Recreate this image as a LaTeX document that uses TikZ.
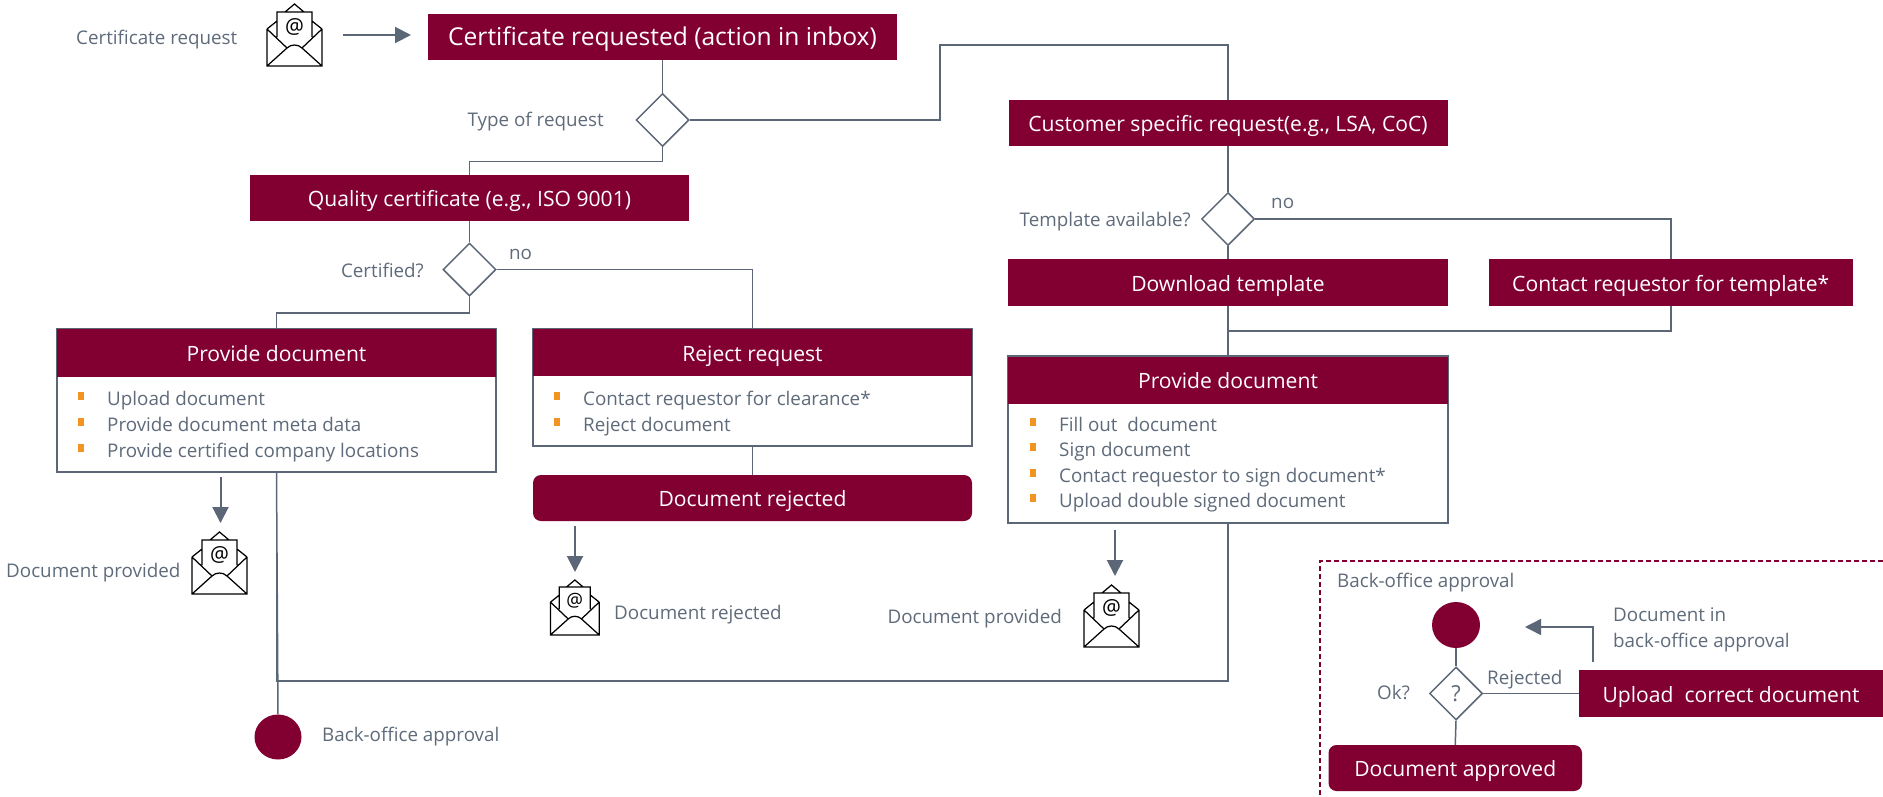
\documentclass[tikz,border=0pt]{standalone}
\usepackage{fontspec}
\setmainfont{Open Sans}
\usetikzlibrary{arrows.meta,shapes.geometric}
\definecolor{maroon}{HTML}{810031}
\definecolor{linegrey}{HTML}{5B6676}
\definecolor{txtgrey}{HTML}{5F6B7A}
\definecolor{bulletor}{HTML}{F39322}
\newcommand{\lblfont}{\fontsize{18.8}{22}\selectfont}
\newcommand{\hdrfont}{\fontsize{21.1}{25}\selectfont}
\newcommand{\bigfont}{\fontsize{24.6}{29}\selectfont}
\tikzset{
  x=1pt,y=-1pt,
  hdr/.style={fill=maroon,text=white,inner sep=0,font=\hdrfont,text height=19pt,text depth=2pt},
  bodybox/.style={draw=linegrey,line width=1.5pt,fill=white,inner sep=0},
  rnd/.style={hdr,rounded corners=8pt},
  dec/.style={diamond,aspect=1,draw=linegrey,line width=1.5pt,fill=white,inner sep=0,minimum size=0pt,text=txtgrey,font=\lblfont},
  lbl/.style={inner sep=0,font=\lblfont,text=txtgrey,text height=16pt,text depth=1pt},
  conn/.style={draw=linegrey,line width=1.5pt},
  arr/.style={draw=linegrey,line width=2pt,-{Triangle[length=16pt,width=16pt]}},
  dot/.style={ellipse,fill=maroon,inner sep=0},
  sq/.style={fill=bulletor,inner sep=0,minimum width=6pt,minimum height=8pt},
  pics/mailicon/.style={code={
    \draw[black,line width=1.25pt,line join=miter]
      (0,25) -- (0,62) -- (55,62) -- (55,25)
      (0,25) -- (10,17) (45,17) -- (55,25)
      (18,8) -- (27.5,0) -- (37,8)
      (10,33) -- (10,8) -- (45,8) -- (45,33)
      (0,25) -- (20,44) .. controls (24,40) and (31,40) .. (35,44) -- (55,25)
      (0,62) -- (20,44) (55,62) -- (35,44);
    \node[inner sep=0,text=black,transform shape,font=\fontsize{21}{24}\selectfont] (#1) at (27.5,23) {@};
  }}
}
\newcommand{\bitem}[4]{%
  \node[sq] (#1s) at (#2,#3) {};
  \node[lbl,anchor=west] (#1t) at (#2+26,#3+1.5) {#4};}
\begin{document}
\begin{tikzpicture}
\useasboundingbox (0,0) rectangle (1883,796);
% top row
\node[lbl,anchor=west] (lreq) at (76,37) {Certificate request};
\pic[] at (267,4) {mailicon=m1};
\coordinate (a1s) at (343,35);
\coordinate (a1e) at (411,35);
\draw[arr] (a1s) -- (a1e);
\node[hdr,minimum width=469pt,minimum height=46pt,font=\bigfont,text height=20pt,text depth=3pt] (top) at (662.5,37) {Certificate requested (action in inbox)};
% decision 1
\node[dec,minimum size=53pt] (d1) at (662.5,120) {};
\node[lbl,anchor=east] (ltype) at (604,119) {Type of request};
\node[hdr,minimum width=439pt,minimum height=46pt] (qc) at (469.5,198) {Quality certificate (e.g., ISO 9001)};
\node[hdr,minimum width=439pt,minimum height=46pt] (cs) at (1228,123) {Customer specific request(e.g., LSA, CoC)};
\draw[conn] (top.south -| d1.north) -- (d1.north);
\draw[conn] (d1.south) -- ++(0,14) -| (qc.north);
\draw[conn] (d1.east) -- ++(250,0) |- (1228,45) -- (cs.north);
% decision 2
\node[dec,minimum size=53pt] (d2) at (469.5,269.5) {};
\node[lbl,anchor=east] (lcert) at (424,270) {Certified?};
\node[lbl,anchor=west] (lno2) at (509,252) {no};
\draw[conn] (qc.south) -- (d2.north);
% provide doc 1
\node[bodybox,minimum width=439pt,minimum height=143pt] (pd1b) at (276.5,400.5) {};
\node[hdr,minimum width=439pt,minimum height=48pt] (pd1) at (276.5,352.5) {Provide document};
\bitem{b11}{81}{396}{Upload document}
\bitem{b12}{81}{422}{Provide document meta data}
\bitem{b13}{81}{448}{Provide certified company locations}
% reject
\node[bodybox,minimum width=439pt,minimum height=117pt] (rjb) at (752.5,387.5) {};
\node[hdr,minimum width=439pt,minimum height=47pt] (rj) at (752.5,352.5) {Reject request};
\bitem{b21}{557}{396}{Contact requestor for clearance*}
\bitem{b22}{557}{422}{Reject document}
\draw[conn] (d2.south) -- ++(0,16) -| (pd1.north);
\draw[conn] (d2.east) -| (rj.north);
\node[rnd,minimum width=439pt,minimum height=46pt] (drj) at (752.5,498) {Document rejected};
\draw[conn] (rjb.south) -- (drj.north);
% arrows + mails left
\coordinate (a2s) at (220.5,477);
\coordinate (a2e) at (220.5,523);
\draw[arr] (a2s) -- (a2e);
\pic at (192,532) {mailicon=m2};
\node[lbl,anchor=west] (ldp1) at (6,570) {Document provided};
\coordinate (a3s) at (575,526);
\coordinate (a3e) at (575,572);
\draw[arr] (a3s) -- (a3e);
\pic[scale=.885] at (550.5,580) {mailicon=m3};
\node[lbl,anchor=west] (ldr) at (614,612) {Document rejected};
% customer branch
\node[dec,minimum size=53pt] (d3) at (1228,219) {};
\node[lbl,anchor=east] (ltpl) at (1191,219) {Template available?};
\node[lbl,anchor=west] (lno3) at (1271,201) {no};
\node[hdr,minimum width=440pt,minimum height=47pt] (dl) at (1228,282.5) {Download template};
\node[hdr,minimum width=364.5pt,minimum height=47pt] (ct) at (1670.75,282.5) {Contact requestor for template*};
\draw[conn] (cs.south) -- (d3.north);
\draw[conn] (d3.south) -- (dl.north);
\draw[conn] (d3.east) -| (ct.north);
\node[bodybox,minimum width=440pt,minimum height=167pt] (pd3b) at (1228,439.5) {};
\node[hdr,minimum width=440pt,minimum height=47pt] (pd3) at (1228,380) {Provide document};
\draw[conn] (dl.south) -- (pd3.north);
\draw[conn] (ct.south) -- ++(0,25) -| (dl.south -| pd3.north);
\bitem{b31}{1033}{422}{Fill out\ \ document}
\bitem{b32}{1033}{447}{Sign document}
\bitem{b33}{1033}{473}{Contact requestor to sign document*}
\bitem{b34}{1033}{498}{Upload double signed document}
\coordinate (a4s) at (1115,530);
\coordinate (a4e) at (1115,576);
\draw[arr] (a4s) -- (a4e);
\pic at (1084,585) {mailicon=m4};
\node[lbl,anchor=east] (ldp2) at (1062,616) {Document provided};
% back office
\node[dot,minimum width=47pt,minimum height=45pt] (bo) at (278,737) {};
\node[lbl,anchor=west] (lbo) at (322,734) {Back-office approval};
\draw[conn] (pd1b.south) -- (bo.north);
\draw[conn] (pd3b.south) -- ++(0,157) -| (pd1b.south);
% inset
\coordinate (ins1) at (1883,561);
\coordinate (ins2) at (1320,561);
\coordinate (ins3) at (1320,796);
\draw[maroon,line width=1.5pt,dash pattern=on 5pt off 3pt] (ins1) -- (ins2) -- (ins3);
\node[lbl,anchor=west] (lbo2) at (1337,580) {Back-office approval};
\node[dot,minimum width=48pt,minimum height=46pt] (bo2) at (1456,625) {};
\node[dec,minimum size=53pt,font=\fontsize{22}{25}\selectfont] (d4) at (1456,693.5) {?};
\node[lbl,anchor=east] (lok) at (1410,692) {Ok?};
\node[lbl,anchor=west] (lrej) at (1487,677) {Rejected};
\node[hdr,minimum width=304pt,minimum height=47pt,font=\fontsize{21.1}{25}\selectfont] (up) at (1731,693.5) {Upload\ \ correct document};
\node[rnd,minimum width=253.5pt,minimum height=46pt] (da) at (1455.25,768) {Document approved};
\draw[conn] (bo2.south) -- (d4.north);
\draw[conn] (d4.south) -- (da.north);
\draw[conn] (d4.east) -- (up.west);
\coordinate (a5s) at (1593,662);
\coordinate (a5e) at (1525,627);
\draw[arr,line width=1.5pt] (a5s) |- (a5e);
\node[lbl,anchor=west] (ldb1) at (1613,614) {Document in};
\node[lbl,anchor=west] (ldb2) at (1613,640) {back-office approval};
\end{tikzpicture}
\end{document}
